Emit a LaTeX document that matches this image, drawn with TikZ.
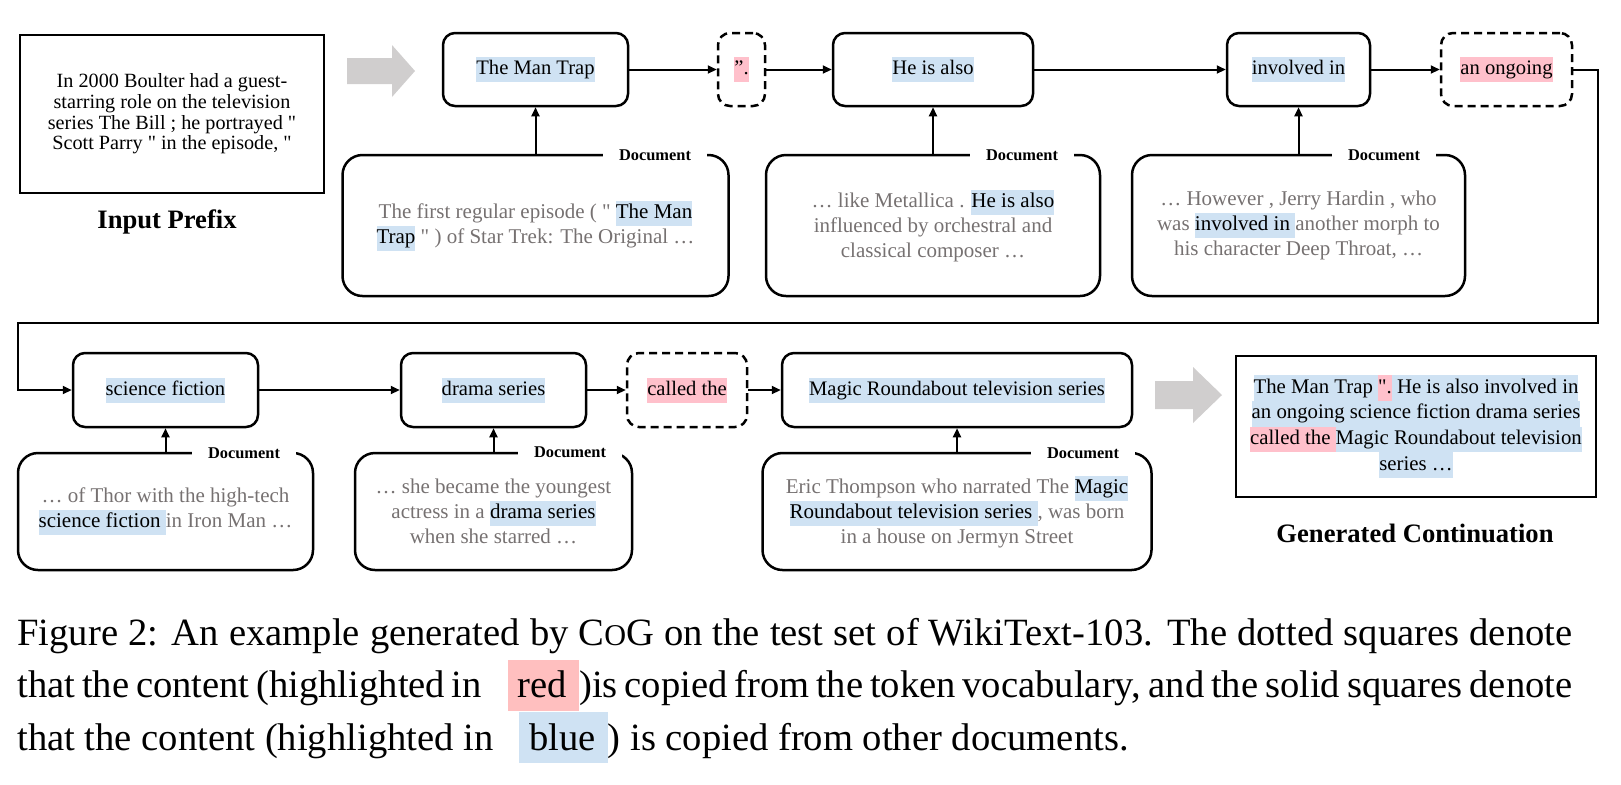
\documentclass[tikz,border=0pt]{standalone}
\usepackage{fontspec}
\setmainfont{Liberation Serif}[Ligatures=TeXOff]
\usepackage{xcolor}
\usepackage{tikz}
\usetikzlibrary{arrows.meta, positioning}
\definecolor{hlblue}{RGB}{207,226,243}
\definecolor{hlred}{RGB}{255,192,203}
\definecolor{caphlred}{RGB}{255,191,191}
\definecolor{doctext}{RGB}{118,113,113}
\definecolor{arrowgray}{RGB}{208,206,206}
\newcommand{\hlb}[1]{{\setlength{\fboxsep}{0pt}\colorbox{hlblue}{\strut\color{black}#1}}}
\newcommand{\hlr}[1]{{\setlength{\fboxsep}{0pt}\colorbox{hlred}{\strut\color{black}#1}}}
\newcommand{\capbox}[2]{{\setlength{\fboxsep}{0pt}\colorbox{#1}{\rule[-6.5pt]{0pt}{25.5pt}\hspace{5pt}#2\hspace{6pt}}}}
\tikzset{
  tokbox/.style={rectangle, draw=black, rounded corners=6pt,
    line width=1.25pt, minimum height=36.5pt, inner sep=2pt,
    font=\fontsize{10.3}{12.5}\selectfont},
  vocbox/.style={tokbox, dash pattern=on 4pt off 2.5pt},
  docbox/.style={rectangle, draw=black, rounded corners=10pt,
    line width=1.25pt, align=center, text=doctext,
    font=\fontsize{10.5}{12.5}\selectfont},
  doclabel/.style={fill=white, inner xsep=8pt, inner ysep=1pt,
    font=\fontsize{8.2}{9}\selectfont\bfseries},
  plainbox/.style={rectangle, draw=black, line width=1.25pt, align=center},
  title/.style={anchor=base, font=\fontsize{13.3}{15}\selectfont\bfseries},
  arrow/.style={-{Triangle[length=4.5pt, width=4pt]}, line width=1pt},
  capline/.style={anchor=base west, inner sep=0pt,
    font=\fontsize{19.3}{26.25}\selectfont}
}

\begin{document}
\begin{tikzpicture}[x=0.5pt, y=-0.5pt]
  \useasboundingbox (0,0) rectangle (1621,784);

  % Input prefix
  \node (prefix) at (172,114) [plainbox, minimum width=152pt, minimum height=79pt,
    font=\fontsize{10.1}{10.3}\selectfont]
    {In 2000 Boulter had a guest-\\starring role on the television\\series The Bill ; he portrayed "\\Scott Parry " in the episode, "};
  \node (prefixtitle) at (167,228) [title] {Input Prefix};
  \fill[arrowgray] (347,58) -- (392,58) -- (392,45) -- (415,71) -- (392,97) -- (392,84) -- (347,84) -- cycle;

  % First row of copied phrases
  \node (mantrap) at (535.5,69.5) [tokbox, minimum width=92.5pt] {\hlb{The Man Trap}};
  \node (quote) at (741.5,69.5) [vocbox, minimum width=23.5pt] {\hlr{”.}};
  \node (heisalso) at (933,69.5) [tokbox, minimum width=100pt] {\hlb{He is also}};
  \node (involved) at (1298.5,69.5) [tokbox, minimum width=71.5pt] {\hlb{involved in}};
  \node (ongoing) at (1506.5,69.5) [vocbox, minimum width=65.5pt] {\hlr{an ongoing}};

  % Documents of the first row
  \node (doc1) at (535.5,225.5) [docbox, minimum width=193pt, minimum height=70.5pt]
    {The first regular episode ( " \hlb{The Man}\\\hlb{Trap} " ) of Star Trek: The Original …};
  \node (doc2) at (933,225.5) [docbox, minimum width=167pt, minimum height=70.5pt]
    {… like Metallica . \hlb{He is also}\\influenced by orchestral and\\classical composer …};
  \node (doc3) at (1298.5,225.5) [docbox, minimum width=166.5pt, minimum height=70.5pt]
    {… However , Jerry Hardin , who\\was \hlb{involved in }another morph to\\his character Deep Throat, …};
  \node (doc1lbl) at (655,155) [doclabel] {Document};
  \node (doc2lbl) at (1022,155) [doclabel] {Document};
  \node (doc3lbl) at (1384,155) [doclabel] {Document};

  % Second row of copied phrases
  \node (scifi) at (165.5,390) [tokbox, minimum width=92.5pt, minimum height=37pt] {\hlb{science fiction}};
  \node (drama) at (493.5,390) [tokbox, minimum width=92.5pt, minimum height=37pt] {\hlb{drama series}};
  \node (called) at (687,390) [vocbox, minimum width=60pt, minimum height=37pt] {\hlr{called the}};
  \node (magic) at (957,390) [tokbox, minimum width=175pt, minimum height=37pt] {\hlb{Magic Roundabout television series}};

  % Documents of the second row
  \node (doc4) at (165.5,511.5) [docbox, minimum width=147.5pt, minimum height=58.5pt]
    {… of Thor with the high-tech\\\hlb{science fiction }in Iron Man …};
  \node (doc5) at (493.5,511.5) [docbox, minimum width=138.5pt, minimum height=58.5pt]
    {… she became the youngest\\actress in a \hlb{drama series}\\when she starred …};
  \node (doc6) at (957,511.5) [docbox, minimum width=194.5pt, minimum height=58.5pt]
    {Eric Thompson who narrated The \hlb{Magic}\\\hlb{Roundabout television series }, was born\\in a house on Jermyn Street};
  \node (doc4lbl) at (244,453) [doclabel] {Document};
  \node (doc5lbl) at (570,452) [doclabel] {Document};
  \node (doc6lbl) at (1083,453) [doclabel] {Document};

  % Generated continuation
  \fill[arrowgray] (1155,381) -- (1193,381) -- (1193,367) -- (1222,395) -- (1193,423) -- (1193,409) -- (1155,409) -- cycle;
  \node (output) at (1416,426.5) [plainbox, minimum width=180pt, minimum height=70.5pt,
    font=\fontsize{10.4}{12.8}\selectfont]
    {\hlb{The Man Trap }\hlr{".}\hlb{\ He is also involved in}\\\hlb{an ongoing science fiction drama series}\\\hlr{called the }\hlb{Magic Roundabout television}\\\hlb{series …}};
  \node (outputtitle) at (1415,542) [title] {Generated Continuation};

  % Connectors
  \coordinate (turnA) at (1598,323);
  \coordinate (turnB) at (18,323);
  \draw[arrow] (mantrap) -- (quote);
  \draw[arrow] (quote) -- (heisalso);
  \draw[arrow] (heisalso) -- (involved);
  \draw[arrow] (involved) -- (ongoing);
  \draw[arrow] (ongoing.east) -| (turnA) -- (turnB) |- (scifi.west);
  \draw[arrow] (scifi) -- (drama);
  \draw[arrow] (drama) -- (called);
  \draw[arrow] (called) -- (magic);
  \draw[arrow] (doc1.north) -- (mantrap.south);
  \draw[arrow] (doc2.north) -- (heisalso.south);
  \draw[arrow] (doc3.north) -- (involved.south);
  \draw[arrow] (doc4.north) -- (scifi.south);
  \draw[arrow] (doc5.north) -- (drama.south);
  \draw[arrow] (doc6.north) -- (magic.south);

  % Caption
  \node (cap1) at (17,645) [capline] {\makebox[777.5pt][s]{Figure 2: An example generated by C{\fontsize{15.1}{18}\selectfont O}G on the test set of WikiText-103. The dotted squares denote}};
  \node (cap2) at (17,697.5) [capline] {\makebox[777.5pt][s]{that the content (highlighted in\hspace{13pt}\capbox{caphlred}{red})is copied from the token vocabulary, and the solid squares denote}};
  \node (cap3) at (17,750) [capline] {that the content (highlighted in\hspace{13pt}\capbox{hlblue}{blue}) is copied from other documents.};
\end{tikzpicture}
\end{document}
